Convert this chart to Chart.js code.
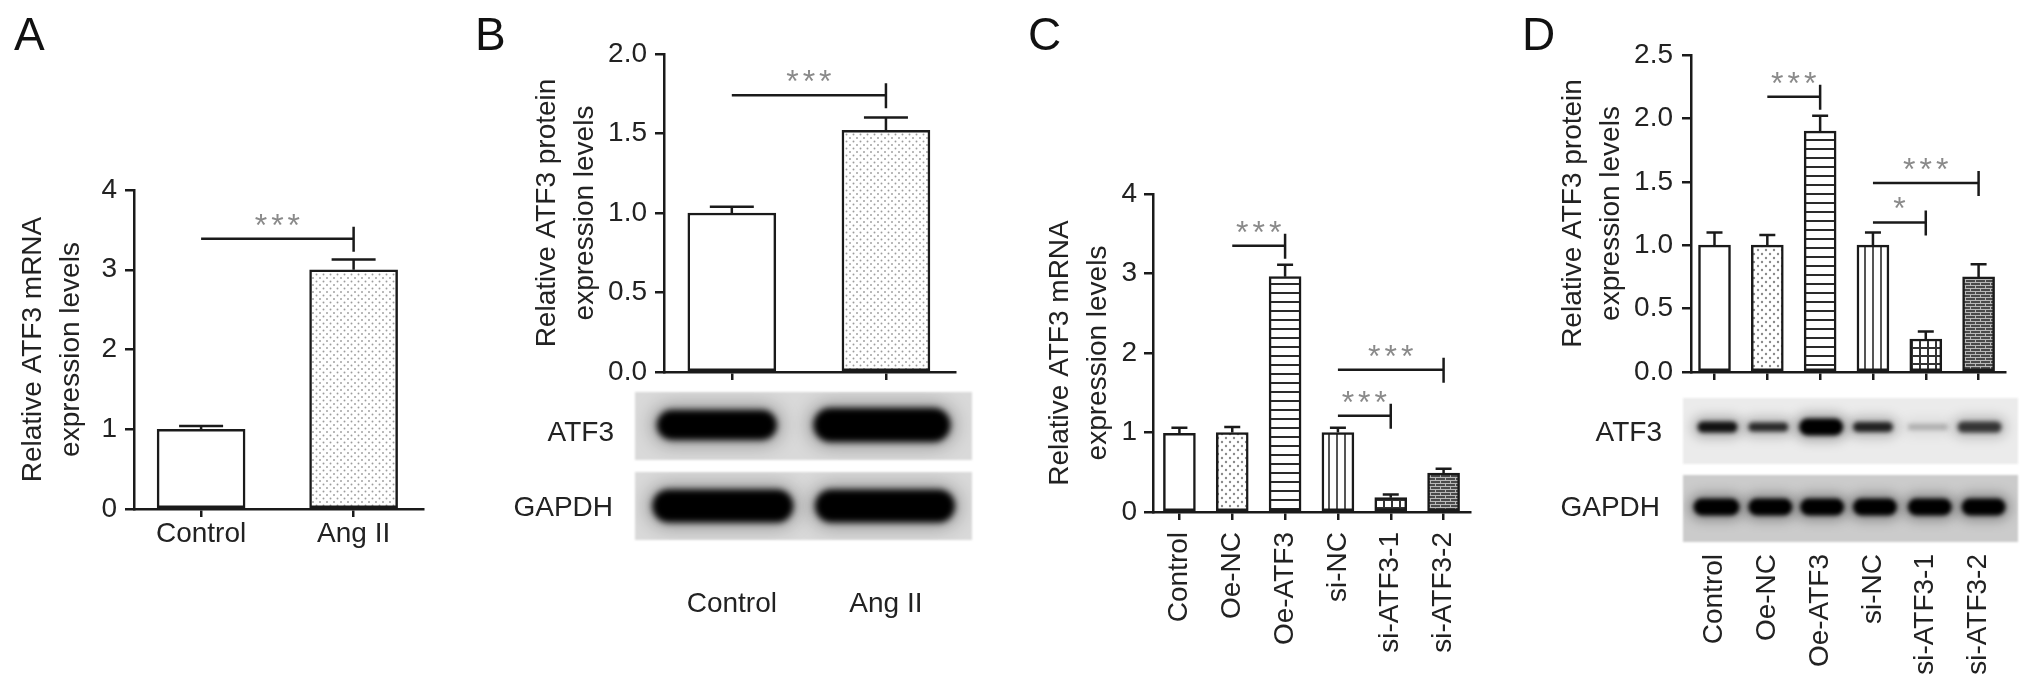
<!DOCTYPE html>
<html lang="en">
<head>
  <meta charset="UTF-8" />
  <title>ATF3 expression</title>
  <script src="https://cdn.jsdelivr.net/npm/chart.js"></script>
  <style>
    body {
      margin: 0;
      background: #fff;
      font-family: 'Liberation Sans', Arial, Helvetica, sans-serif;
    }
    #fig {
      position: relative;
      width: 2032px;
      height: 689px;
      overflow: hidden;
      background: #fff;
    }
    canvas {
      position: absolute;
      top: 0;
    }
    .letter {
      position: absolute;
      top: 11px;
      font-size: 46px;
      line-height: 1;
      color: #111;
    }
    .blot-label {
      position: absolute;
      width: 160px;
      font-size: 28px;
      line-height: 1;
      color: #222;
      text-align: right;
    }
  </style>
</head>
<body>
  <div id="fig">
    <canvas id="chartA" width="460" height="689" style="left:0px"></canvas>
    <canvas id="chartB" width="520" height="689" style="left:460px"></canvas>
    <canvas id="chartC" width="520" height="689" style="left:980px"></canvas>
    <canvas id="chartD" width="532" height="689" style="left:1500px"></canvas>

    <div class="letter" style="left:14px">A</div>
    <div class="letter" style="left:475px">B</div>
    <div class="letter" style="left:1028px">C</div>
    <div class="letter" style="left:1522px">D</div>

    <div class="blot-label" style="left:454px; top:418px">ATF3</div>
    <div class="blot-label" style="left:453px; top:493px">GAPDH</div>
    <div class="blot-label" style="left:1502px; top:418px">ATF3</div>
    <div class="blot-label" style="left:1500px; top:493px">GAPDH</div>
  </div>

  <script>
    // values
    const labelsA = ['Control', 'Ang II'];
    const meanA = [1.0, 3.0];
    const sdA = [0.04, 0.13];
    const yTicksA = [0, 1, 2, 3, 4];

    const labelsB = ['Control', 'Ang II'];
    const meanB = [1.0, 1.52];
    const sdB = [0.04, 0.08];
    const yTicksB = [0, 0.5, 1.0, 1.5, 2.0];
    const bandsB_ATF3 = [1, 1];
    const bandsB_GAPDH = [1, 1];

    const labelsCD = ['Control', 'Oe-NC', 'Oe-ATF3', 'si-NC', 'si-ATF3-1', 'si-ATF3-2'];
    const meanC = [0.99, 1.0, 2.96, 1.0, 0.18, 0.49];
    const sdC = [0.07, 0.07, 0.15, 0.06, 0.04, 0.055];
    const yTicksC = [0, 1, 2, 3, 4];

    const meanD = [1.0, 1.0, 1.9, 1.0, 0.26, 0.75];
    const sdD = [0.10, 0.08, 0.12, 0.10, 0.06, 0.10];
    const yTicksD = [0, 0.5, 1.0, 1.5, 2.0, 2.5];
    const bandsD_ATF3 = [0.9, 0.78, 1, 0.82, 0.22, 0.72];
    const bandsD_GAPDH = [1, 1, 1, 1, 1, 1];

    // significance brackets: [from bar, to bar, height, mark]
    const sigA = [[0, 1, 3.39, '***']];
    const sigB = [[0, 1, 1.74, '***']];
    const sigC = [[1, 2, 3.35, '***'], [3, 5, 1.79, '***'], [3, 4, 1.21, '***']];
    const sigD = [[1, 2, 2.17, '***'], [3, 5, 1.49, '***'], [3, 4, 1.18, '*']];

    const FONT = "'Liberation Sans', Arial, Helvetica, sans-serif";
    const INK = '#1a1a1a';
    const TEXT = '#222';

    // hatch fills like the original bars
    function pat(kind) {
      const c = document.createElement('canvas');
      const g = c.getContext('2d');
      const sizes = { fineDots: [7, 7], dots: [8, 8], hlines: [4, 9], vlines: [8, 4], grid: [8, 8], brick: [10, 6] };
      c.width = sizes[kind][0];
      c.height = sizes[kind][1];
      g.fillStyle = kind === 'brick' ? '#4a4a4a' : '#fff';
      g.fillRect(0, 0, c.width, c.height);
      if (kind === 'fineDots' || kind === 'dots') {
        g.fillStyle = kind === 'dots' ? '#8a8a8a' : '#9c9c9c';
        const r = kind === 'dots' ? 1.2 : 0.95;
        const pts = kind === 'dots' ? [[2, 2], [6, 6]] : [[1.5, 1.5], [5, 5]];
        pts.forEach(([px, py]) => { g.beginPath(); g.arc(px, py, r, 0, Math.PI * 2); g.fill(); });
      } else if (kind === 'hlines') {
        g.fillStyle = '#2a2a2a';
        g.fillRect(0, 4, c.width, 2);
      } else if (kind === 'vlines') {
        g.fillStyle = '#555';
        g.fillRect(4, 0, 2, c.height);
      } else if (kind === 'grid') {
        g.fillStyle = '#333';
        g.fillRect(3, 0, 2, c.height);
        g.fillRect(0, 3, c.width, 2);
      } else if (kind === 'brick') {
        g.fillStyle = '#b8b8b8';
        g.fillRect(0, 0, 10, 1);
        g.fillRect(0, 3, 10, 1);
        g.fillRect(0, 0, 1, 3);
        g.fillRect(5, 3, 1, 3);
      }
      return g.createPattern(c, 'repeat');
    }

    const fillAB = ['#fff', pat('fineDots')];
    const fillCD = ['#fff', pat('dots'), pat('hlines'), pat('vlines'), pat('grid'), pat('brick')];

    function band(ctx, cx, cy, w, h, dark, blur) {
      ctx.save();
      ctx.filter = 'blur(' + (blur * 3) + 'px)';
      ctx.fillStyle = 'rgba(0,0,0,' + (0.3 * dark) + ')';
      ctx.beginPath();
      ctx.roundRect(cx - w / 2 - 5, cy - h / 2 - 5, w + 10, h + 10, (h + 10) / 2);
      ctx.fill();
      ctx.filter = 'blur(' + blur + 'px)';
      ctx.fillStyle = 'rgba(0,0,0,' + dark + ')';
      ctx.beginPath();
      ctx.roundRect(cx - w / 2, cy - h / 2, w, h, h / 2);
      ctx.fill();
      ctx.restore();
    }

    // error bars, brackets and (optionally) the blot strips
    function extras(means, sds, sigs, blot) {
      return {
        id: 'extras',
        afterDatasetsDraw(chart) {
          const { ctx, scales: { x, y } } = chart;
          const meta = chart.getDatasetMeta(0);
          ctx.save();
          ctx.strokeStyle = INK;
          ctx.lineWidth = 2.5;
          meta.data.forEach((bar, i) => {
            const top = y.getPixelForValue(means[i] + sds[i]);
            const half = bar.width / 4;
            ctx.beginPath();
            ctx.moveTo(bar.x, bar.y);
            ctx.lineTo(bar.x, top);
            ctx.moveTo(bar.x - half, top);
            ctx.lineTo(bar.x + half, top);
            ctx.stroke();
          });
          sigs.forEach(([a, b, h, mark]) => {
            const x1 = x.getPixelForValue(a);
            const x2 = x.getPixelForValue(b);
            const yy = y.getPixelForValue(h);
            ctx.strokeStyle = INK;
            ctx.beginPath();
            ctx.moveTo(x1, yy);
            ctx.lineTo(x2, yy);
            ctx.moveTo(x2, yy - 12);
            ctx.lineTo(x2, yy + 13);
            ctx.stroke();
            ctx.fillStyle = '#8a8a8a';
            ctx.font = '32px ' + FONT;
            ctx.letterSpacing = '4px';
            ctx.textAlign = 'center';
            ctx.textBaseline = 'alphabetic';
            const m = ctx.measureText(mark);
            const cy = yy - 19;
            ctx.fillText(mark, (x1 + x2) / 2 + 2, cy + (m.actualBoundingBoxAscent - m.actualBoundingBoxDescent) / 2);
          });
          ctx.restore();
        },
        afterDraw(chart) {
          if (!blot) return;
          const { ctx, scales: { x } } = chart;
          blot.forEach(row => {
            ctx.save();
            ctx.filter = 'blur(1px)';
            ctx.fillStyle = row.bg;
            ctx.fillRect(row.left, row.top, row.right - row.left, row.bottom - row.top);
            ctx.restore();
            ctx.save();
            ctx.beginPath();
            ctx.rect(row.left, row.top, row.right - row.left, row.bottom - row.top);
            ctx.clip();
            row.dark.forEach((d, i) => {
              band(ctx, x.getPixelForValue(i) + row.dx[i], row.y, row.w[i], row.h[i], d, row.blur);
            });
            ctx.restore();
          });
        }
      };
    }

    function makeChart(id, o) {
      return new Chart(document.getElementById(id), {
        type: 'bar',
        data: {
          datasets: [{
            data: o.means.map((v, i) => ({ x: i, y: v })),
            backgroundColor: o.fills,
            borderColor: INK,
            borderWidth: 2.5,
            borderSkipped: false,
            barThickness: o.barW
          }]
        },
        options: {
          responsive: false,
          animation: false,
          events: [],
          layout: { padding: o.pad },
          plugins: { legend: { display: false }, tooltip: { enabled: false } },
          scales: {
            x: {
              type: 'linear',
              bounds: 'data',
              min: o.xMin,
              max: o.xMax,
              offset: false,
              afterBuildTicks: s => { s.ticks = o.labels.map((_, i) => ({ value: i })); },
              afterFit: s => {
                s.height = o.xH;
                s.paddingLeft = 0;
                s.paddingRight = 0;
              },
              ticks: {
                callback: v => o.labels[v],
                autoSkip: false,
                minRotation: o.rot,
                maxRotation: o.rot,
                padding: o.xPad,
                color: TEXT,
                font: { family: FONT, size: 28 }
              },
              grid: { display: true, drawOnChartArea: false, drawTicks: true, tickLength: 8, lineWidth: 2.5, color: INK, offset: false },
              border: { display: true, width: 2.5, color: INK }
            },
            y: {
              min: 0,
              max: o.yTicks[o.yTicks.length - 1],
              afterBuildTicks: s => { s.ticks = o.yTicks.map(v => ({ value: v })); },
              afterFit: s => { s.width = o.yW; },
              ticks: {
                callback: o.fmt,
                padding: o.yPad,
                color: TEXT,
                font: { family: FONT, size: 28 }
              },
              title: {
                display: true,
                text: o.title,
                color: TEXT,
                font: { family: FONT, size: 28, lineHeight: 1.36 },
                padding: { top: o.titlePad, bottom: 0 }
              },
              grid: { display: true, drawOnChartArea: false, drawTicks: true, tickLength: 9, lineWidth: 2.5, color: INK },
              border: { display: true, width: 2.5, color: INK }
            }
          }
        },
        plugins: [extras(o.means, o.sds, o.sigs, o.blot)]
      });
    }

    const intLabel = v => String(v);
    const decLabel = v => v.toFixed(1);

    makeChart('chartA', {
      labels: labelsA, means: meanA, sds: sdA, sigs: sigA, fills: fillAB,
      yTicks: yTicksA, fmt: intLabel, barW: 88, rot: 0,
      xMin: -0.44, xMax: 1.455,
      pad: { left: 0, top: 190, right: 37, bottom: 120 },
      yW: 134, xH: 60, xPad: 0, yPad: 8, titlePad: 14,
      title: ['Relative ATF3 mRNA', 'expression levels']
    });

    makeChart('chartB', {
      labels: labelsB, means: meanB, sds: sdB, sigs: sigB, fills: fillAB,
      yTicks: yTicksB, fmt: decLabel, barW: 88, rot: 0,
      xMin: -0.44, xMax: 1.448,
      pad: { left: 0, top: 54, right: 25, bottom: 37 },
      yW: 204, xH: 280, xPad: 207, yPad: 8, titlePad: 68,
      title: ['Relative ATF3 protein', 'expression levels'],
      blot: [
        { top: 392, bottom: 460, left: 175, right: 512, bg: '#d9d9d9', y: 425,
          w: [120, 137], h: [30, 34], dx: [-15, -4], dark: bandsB_ATF3, blur: 3 },
        { top: 472, bottom: 540, left: 175, right: 512, bg: '#d9d9d9', y: 506,
          w: [141, 140], h: [33, 33], dx: [-9, -1], dark: bandsB_GAPDH, blur: 3 }
      ]
    });

    makeChart('chartC', {
      labels: labelsCD, means: meanC, sds: sdC, sigs: sigC, fills: fillCD,
      yTicks: yTicksC, fmt: intLabel, barW: 32, rot: 90,
      xMin: -0.5, xMax: 5.5,
      pad: { left: 0, top: 194, right: 30, bottom: 17 },
      yW: 173, xH: 160, xPad: 12, yPad: 7, titlePad: 61,
      title: ['Relative ATF3 mRNA', 'expression levels']
    });

    makeChart('chartD', {
      labels: labelsCD, means: meanD, sds: sdD, sigs: sigD, fills: fillCD,
      yTicks: yTicksD, fmt: decLabel, barW: 32, rot: 90,
      xMin: -0.445, xMax: 5.5,
      pad: { left: 0, top: 55, right: 27, bottom: 7 },
      yW: 191, xH: 310, xPad: 174, yPad: 9, titlePad: 54,
      title: ['Relative ATF3 protein', 'expression levels'],
      blot: [
        { top: 398, bottom: 464, left: 183, right: 518, bg: '#ebebeb', y: 427,
          w: [40, 40, 44, 40, 40, 44], h: [11, 9, 17, 10, 6, 11], dx: [3, 1, 1, 0, 2, 1], dark: bandsD_ATF3, blur: 2 },
        { top: 475, bottom: 542, left: 183, right: 518, bg: '#cbcbcb', y: 507,
          w: [46, 44, 44, 44, 44, 44], h: [17, 17, 17, 17, 17, 17], dx: [2, 3, 2, 2, 4, 5], dark: bandsD_GAPDH, blur: 2 }
      ]
    });
  </script>
</body>
</html>
